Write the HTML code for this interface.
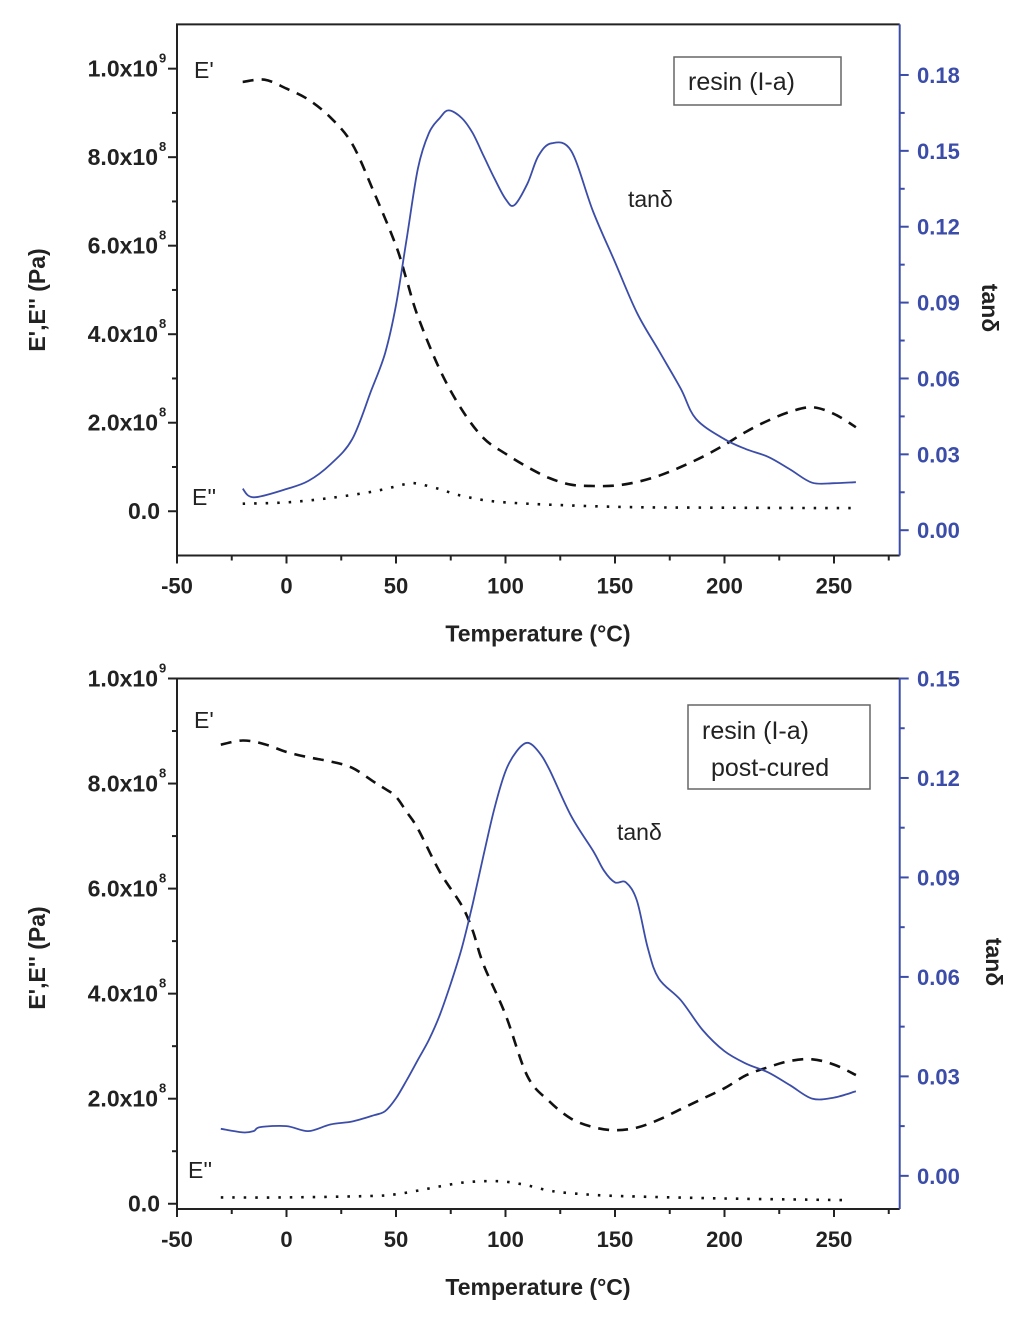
<!DOCTYPE html>
<html><head><meta charset="utf-8"><style>
html,body{margin:0;padding:0;background:#fff;}
svg{display:block;font-family:"Liberation Sans",Arial,sans-serif;}
</style></head><body>
<svg id="fig" width="1024" height="1318" viewBox="0 0 1024 1318" xmlns="http://www.w3.org/2000/svg"></svg>
<script>
// ---- Top chart data: resin (I-a) ----
const topEpT = [-20,-10,0,10,20,30,40,50,55,60,70,80,90,100,110,120,130,140,150,160,170,180,190,200,210,220,230,240,250,260];
const topEpV = [0.97,0.975,0.955,0.93,0.89,0.83,0.72,0.60,0.52,0.44,0.32,0.23,0.165,0.13,0.10,0.075,0.06,0.057,0.058,0.066,0.08,0.10,0.123,0.15,0.18,0.205,0.225,0.235,0.22,0.19];
const topEppT = [-20,0,20,40,55,60,70,80,100,150,200,260];
const topEppV = [0.017,0.02,0.03,0.045,0.062,0.062,0.05,0.035,0.02,0.01,0.008,0.007];
const topTanT = [-20,-15,0,10,20,30,38.6,45,50,55,60,65,70,74,80,85,90,95,100,104,110,115,121,130,140,150,160,170,180,187,200,210,220,230,240,250,260];
const topTanV = [0.0164,0.013,0.0163,0.0195,0.026,0.036,0.055,0.07,0.089,0.116,0.143,0.157,0.163,0.166,0.163,0.157,0.148,0.139,0.131,0.1285,0.137,0.148,0.153,0.150,0.126,0.106,0.086,0.071,0.056,0.044,0.036,0.032,0.029,0.024,0.0188,0.0186,0.019];
// ---- Bottom chart data: resin (I-a) post-cured ----
const botEpT = [-30,-20,-10,0,10,20,30,40,45,50,55,60,70,80,85,90,100,110,120,130,140,150,160,170,180,190,200,210,220,230,240,250,260];
const botEpV = [0.874,0.882,0.875,0.86,0.85,0.842,0.83,0.803,0.79,0.775,0.745,0.714,0.632,0.568,0.52,0.455,0.36,0.243,0.195,0.162,0.146,0.14,0.145,0.16,0.18,0.20,0.22,0.245,0.26,0.272,0.275,0.265,0.245];
const botEppT = [-30,0,40,50,60,70,80,90,100,110,120,130,150,200,255];
const botEppV = [0.012,0.012,0.015,0.018,0.025,0.033,0.04,0.043,0.042,0.035,0.025,0.02,0.015,0.01,0.007];
const botTanT = [-30,-20,-15,-12,0,10,20,30,40,45,50,55,60,65,70,75,80,85,90,95,100,105,110,115,120,130,140,145,150,155,160,165,170,180,190,200,210,220,230,240,250,260];
const botTanV = [0.0142,0.0131,0.0135,0.0147,0.015,0.0135,0.0155,0.0164,0.0183,0.0195,0.0234,0.029,0.035,0.041,0.0485,0.058,0.0686,0.082,0.0968,0.111,0.122,0.128,0.1306,0.128,0.1226,0.1085,0.098,0.092,0.0885,0.0885,0.083,0.0686,0.0595,0.053,0.044,0.0376,0.0338,0.0312,0.0273,0.0233,0.0236,0.0255];
// tick labels
const xTicks = [-50,0,50,100,150,200,250];
const topLeftTicks = [0,2,4,6,8,10];
const topLeftLabels = ["0.0","2.0x10","4.0x10","6.0x10","8.0x10","1.0x10"];
const topLeftExp = ["","8","8","8","8","9"];
const topRightTicks = [0,0.03,0.06,0.09,0.12,0.15,0.18];
const botLeftTicks = [0,2,4,6,8,10];
const botLeftLabels = topLeftLabels;
const botLeftExp = topLeftExp;
const botRightTicks = [0,0.03,0.06,0.09,0.12,0.15];

const NS="http://www.w3.org/2000/svg";
const svg=document.getElementById('fig');
const BLUE="#3b4da8";
function mk(tag,attrs,parent){const e=document.createElementNS(NS,tag);for(const k in attrs)e.setAttribute(k,attrs[k]);(parent||svg).appendChild(e);return e;}
function smooth(P){
  let d='M'+P[0][0].toFixed(1)+','+P[0][1].toFixed(1);
  for(let i=0;i<P.length-1;i++){
    const p0=P[Math.max(i-1,0)],p1=P[i],p2=P[i+1],p3=P[Math.min(i+2,P.length-1)];
    const c1x=p1[0]+(p2[0]-p0[0])/6,c1y=p1[1]+(p2[1]-p0[1])/6;
    const c2x=p2[0]-(p3[0]-p1[0])/6,c2y=p2[1]-(p3[1]-p1[1])/6;
    d+=`C${c1x.toFixed(1)},${c1y.toFixed(1)} ${c2x.toFixed(1)},${c2y.toFixed(1)} ${p2[0].toFixed(1)},${p2[1].toFixed(1)}`;
  }
  return d;
}

function chart(o){
  const g=mk('g',{});
  
  
  const L=177,R=899.7,T=o.top,B=o.bottom;
  const xs=t=>L+(t-(-50))/(280-(-50))*(R-L);
  const yl=v=>B-(v-o.lmin)/(o.lmax-o.lmin)*(B-T);
  const yr=v=>B-(v-o.rmin)/(o.rmax-o.rmin)*(B-T);
  const fr=mk('path',{d:`M${L},${B} L${L},${T} L${R},${T}`,stroke:'#222',fill:'none','stroke-width':2},g);
  
  
  const xa=mk('line',{x1:L,y1:B,x2:R,y2:B,stroke:'#222','stroke-width':2},g);
  
  
  const ra=mk('line',{x1:R,y1:T,x2:R,y2:B,stroke:BLUE,'stroke-width':2},g);
  
  
  for(let t=-50;t<=275;t+=25){const maj=(t%50===0);mk('line',{x1:xs(t),y1:B,x2:xs(t),y2:B+(maj?8:5),stroke:'#222','stroke-width':2},g);}
  xTicks.forEach(t=>{const tx=mk('text',{x:xs(t),y:B+38,'text-anchor':'middle','font-size':22,'font-weight':'bold',fill:'#222'},g);tx.textContent=t;
    
    });
  const xt=mk('text',{x:538,y:B+86,'text-anchor':'middle','font-size':23,'font-weight':'bold',fill:'#222'},g);
  xt.textContent='Temperature (°C)';
  
  
  for(let v=o.lticks[0];v<=o.lticks[o.lticks.length-1];v+=1){const maj=(v%2===0);mk('line',{x1:L,y1:yl(v),x2:L-(maj?9:5),y2:yl(v),stroke:'#222','stroke-width':2},g);}
  o.lticks.forEach((v,i)=>{const tx=mk('text',{x:o.exp[i]?158:160,y:yl(v)+8,'text-anchor':'end','font-size':23,'font-weight':'bold',fill:'#222'},g);tx.textContent=o.lab[i];
    
    
    if(o.exp[i]){const s=mk('text',{x:159,y:yl(v)-6,'text-anchor':'start','font-size':13,'font-weight':'bold',fill:'#222'},g);s.textContent=o.exp[i];}});
  const lt=mk('text',{x:0,y:0,'text-anchor':'middle','font-size':23,'font-weight':'bold',fill:'#222',transform:`translate(45,${o.ltitleY}) rotate(-90)`},g);
  lt.textContent="E',E'' (Pa)";
  
  
  for(let k=0;k<o.rticks.length*2-1;k++){const v=o.rmin+0.01+k*0.015;const maj=(k%2===0);mk('line',{x1:R,y1:yr(v),x2:R+(maj?9:5),y2:yr(v),stroke:BLUE,'stroke-width':2},g);}
  o.rticks.forEach(v=>{const tx=mk('text',{x:917,y:yr(v)+8,'font-size':22,'font-weight':'bold',fill:BLUE},g);tx.textContent=v.toFixed(2);
    
    });
  const rt=mk('text',{x:0,y:0,'text-anchor':'middle','font-size':23,'font-weight':'bold',fill:'#222',transform:`translate(${o.rtitleX},${o.rtitleY}) rotate(90)`},g);
  rt.textContent='tanδ';
  
  
  const line=(T_,V_,fx,fy,attrs)=>{const P=T_.map((t,i)=>[fx(t),fy(V_[i])]);return mk('path',Object.assign({d:smooth(P),fill:'none'},attrs),g);};
  const ep=line(o.epT,o.epV.map(v=>v*10),xs,yl,{stroke:'#111','stroke-width':2.6,'stroke-dasharray':'11,8'});
  
  
  const epp=line(o.eppT,o.eppV.map(v=>v*10),xs,yl,{stroke:'#111','stroke-width':2.6,'stroke-dasharray':'2.5,9'});
  
  
  const tn=line(o.tanT,o.tanV,xs,yr,{stroke:BLUE,'stroke-width':1.8});
  
  
  o.ann.forEach(a=>{const tx=mk('text',{x:a[1],y:a[2],'font-size':23,fill:'#222'},g);tx.textContent=a[0];
    
    });
  const bx=mk('rect',{x:o.box[0],y:o.box[1],width:o.box[2],height:o.box[3],fill:'#fff',stroke:'#666','stroke-width':1.5},g);
  
  
  o.boxText.forEach(b=>{const tx=mk('text',{x:b[1],y:b[2],'font-size':25,fill:'#222'},g);tx.textContent=b[0];
    
    });
}

chart({name:'top-chart',top:24.4,bottom:555.5,lmin:-1,lmax:11,rmin:-0.01,rmax:0.20,
  lticks:topLeftTicks,lab:topLeftLabels,exp:topLeftExp,rticks:topRightTicks,
  ltitleY:300,rtitleX:982,rtitleY:308,
  epT:topEpT,epV:topEpV,eppT:topEppT,eppV:topEppV,tanT:topTanT,tanV:topTanV,
  ann:[["E'",194,78],["E''",192,505],["tanδ",628,207]],
  box:[674,57,167,48],boxText:[["resin (I-a)",688,90]]});
chart({name:'bottom-chart',top:678.5,bottom:1209,lmin:-0.1,lmax:10,rmin:-0.01,rmax:0.15,
  lticks:botLeftTicks,lab:botLeftLabels,exp:botLeftExp,rticks:botRightTicks,
  ltitleY:958,rtitleX:986,rtitleY:962,
  epT:botEpT,epV:botEpV,eppT:botEppT,eppV:botEppV,tanT:botTanT,tanV:botTanV,
  ann:[["E'",194,728],["E''",188,1178],["tanδ",617,840]],
  box:[688,705,182,84],boxText:[["resin (I-a)",702,739],["post-cured",711,776]]});
</script>
</body></html>
